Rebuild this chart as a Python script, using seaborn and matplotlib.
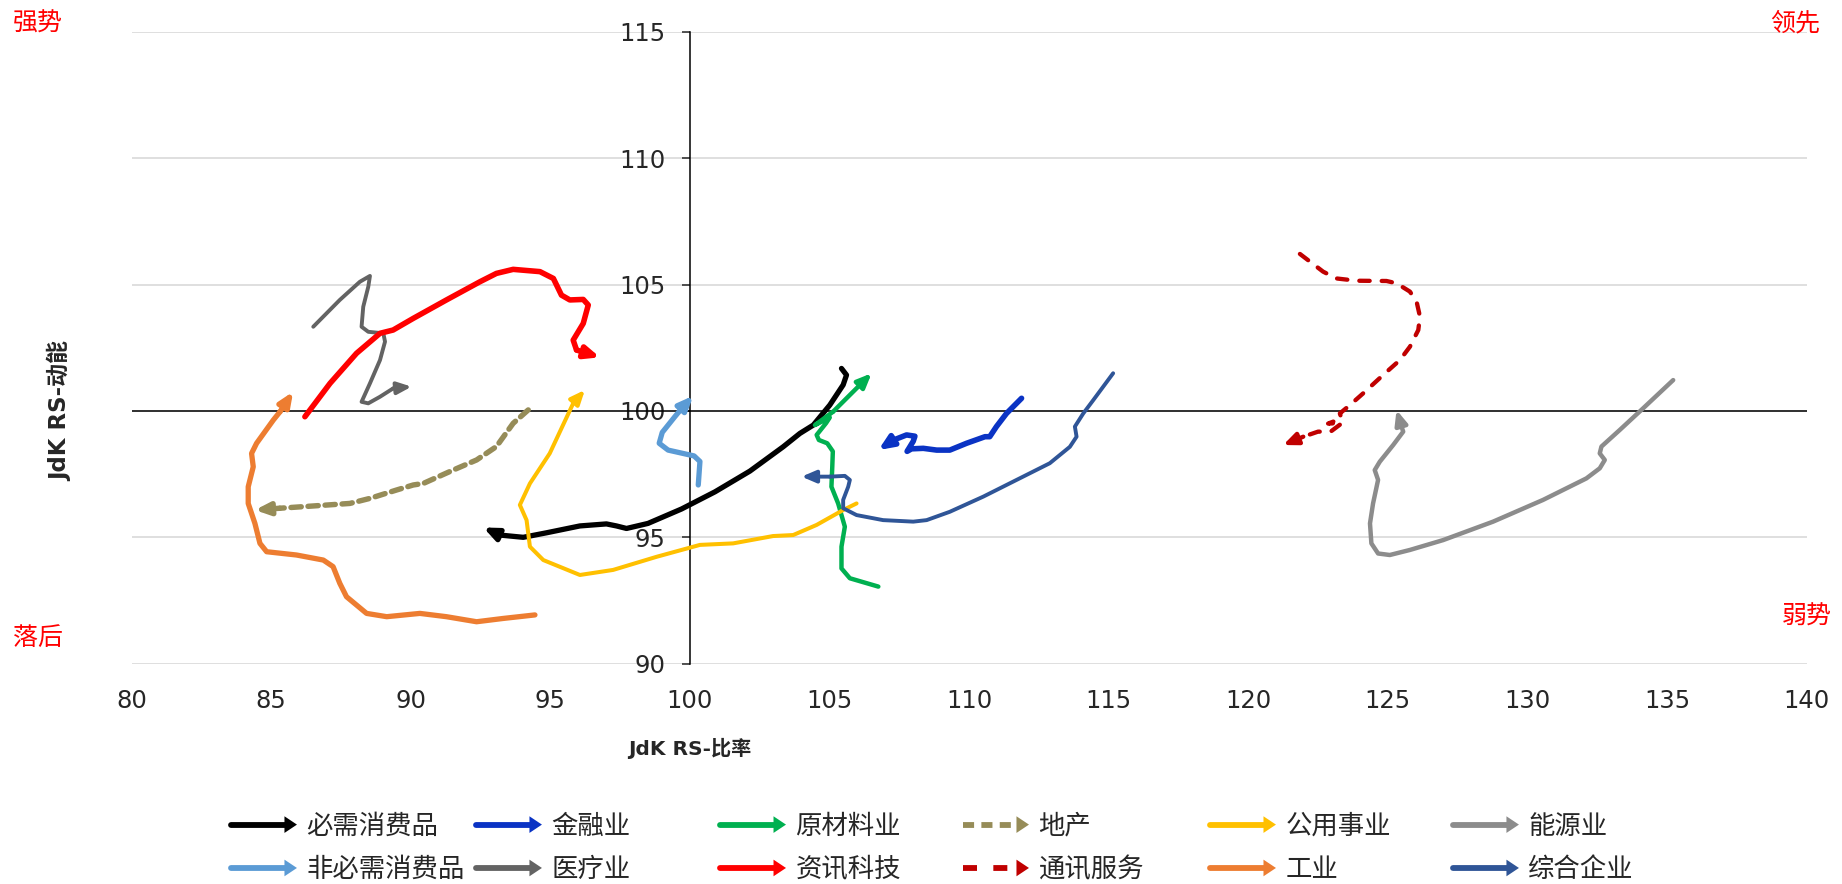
import matplotlib
matplotlib.use("Agg")
import matplotlib.pyplot as plt
import pandas as pd
import seaborn as sns
from matplotlib.lines import Line2D
from matplotlib.patches import Polygon
from matplotlib.legend_handler import HandlerBase

# RRG tails, oldest point first, arrow tip last
staples_x = [105.43, 105.61, 105.49, 105.01, 104.42, 103.94, 103.34, 102.15, 100.90, 99.70,
             98.50, 97.73, 97.37, 97.01, 96.06, 94.87, 94.03, 93.19, 92.60]
staples_y = [101.68, 101.42, 101.03, 100.23, 99.44, 99.11, 98.58, 97.62, 96.80, 96.12,
             95.55, 95.35, 95.45, 95.53, 95.45, 95.18, 95.00, 95.09, 95.39]

fin_x = [111.88, 111.34, 110.98, 110.86, 110.74, 110.57, 109.91, 109.31, 108.84, 108.36,
         107.94, 107.78, 108.00, 108.06, 107.76, 107.30, 106.75]
fin_y = [100.50, 99.90, 99.38, 99.18, 98.98, 98.98, 98.72, 98.45, 98.45, 98.52,
         98.50, 98.40, 98.80, 99.00, 99.05, 98.85, 98.45]

mat_x = [106.75, 105.73, 105.43, 105.43, 105.55, 105.31, 105.07, 105.10, 105.12, 104.92,
         104.62, 104.54, 104.88, 105.01, 104.48, 105.13, 106.51]
mat_y = [93.05, 93.38, 93.77, 94.63, 95.42, 96.34, 97.00, 97.79, 98.40, 98.72,
         98.85, 99.05, 99.52, 99.74, 99.44, 99.97, 101.49]

re_x = [94.21, 93.67, 93.07, 92.36, 91.52, 90.45, 90.09, 89.49, 88.54, 87.82, 86.51, 85.31, 84.42]
re_y = [100.04, 99.51, 98.59, 98.06, 97.66, 97.13, 97.07, 96.87, 96.54, 96.34, 96.24, 96.15, 96.08]

util_x = [105.97, 105.49, 104.54, 103.70, 102.98, 101.55, 100.36, 98.81, 97.25, 96.06,
          94.75, 94.27, 94.15, 93.91, 94.27, 94.98, 95.82, 96.24]
util_y = [96.34, 96.08, 95.49, 95.09, 95.05, 94.76, 94.70, 94.23, 93.71, 93.51,
          94.10, 94.63, 95.68, 96.28, 97.13, 98.32, 100.30, 100.83]

energy_x = [135.22, 134.14, 133.31, 132.65, 132.59, 132.77, 132.59, 132.11, 130.56, 128.77,
            126.98, 125.79, 125.07, 124.65, 124.41, 124.36, 124.47, 124.65, 124.53, 124.71,
            125.19, 125.55, 125.49, 125.31]
energy_y = [101.22, 100.10, 99.25, 98.59, 98.32, 98.06, 97.73, 97.33, 96.48, 95.62,
            94.89, 94.50, 94.30, 94.36, 94.76, 95.55, 96.34, 97.27, 97.66, 97.99,
            98.65, 99.18, 99.38, 100.04]

disc_x = [100.30, 100.36, 100.15, 99.22, 98.90, 99.01, 99.46, 99.76, 100.12]
disc_y = [97.07, 98.00, 98.22, 98.45, 98.72, 99.15, 99.77, 100.17, 100.60]

health_x = [86.51, 87.46, 88.18, 88.54, 88.48, 88.30, 88.24, 88.48, 89.02, 89.08,
            88.90, 88.54, 88.24, 88.48, 88.90, 89.37, 90.03]
health_y = [103.33, 104.39, 105.11, 105.34, 104.91, 104.12, 103.33, 103.13, 103.07, 102.74,
            102.01, 101.09, 100.36, 100.30, 100.56, 100.89, 100.96]

tech_x = [86.21, 87.11, 88.06, 88.90, 89.37, 90.09, 91.28, 92.48, 93.07, 93.67,
          94.63, 95.11, 95.40, 95.70, 96.18, 96.36, 96.18, 95.82, 95.94, 96.78]
tech_y = [99.77, 101.09, 102.28, 103.07, 103.20, 103.66, 104.39, 105.11, 105.44, 105.60,
          105.51, 105.24, 104.58, 104.39, 104.41, 104.19, 103.46, 102.80, 102.41, 102.12]

comm_x = [121.85, 122.68, 123.16, 123.88, 124.95, 125.31, 125.79, 126.03, 126.15, 126.09,
          125.79, 125.43, 124.83, 124.12, 123.64, 123.28, 123.34, 122.86, 123.36, 122.95,
          122.50, 121.97, 121.25]
comm_y = [106.21, 105.51, 105.24, 105.15, 105.14, 105.05, 104.72, 104.32, 103.73, 103.20,
          102.54, 102.01, 101.42, 100.70, 100.23, 99.90, 99.70, 99.50, 99.52, 99.18,
          99.18, 98.98, 98.65]

ind_x = [94.45, 93.31, 92.36, 91.28, 90.33, 89.14, 88.42, 87.70, 87.46, 87.22,
         86.87, 85.91, 84.84, 84.60, 84.42, 84.18, 84.18, 84.36, 84.30, 84.48,
         85.08, 85.32, 85.79]
ind_y = [91.93, 91.79, 91.66, 91.86, 91.99, 91.86, 91.99, 92.65, 93.18, 93.84,
         94.10, 94.30, 94.43, 94.76, 95.55, 96.34, 97.00, 97.79, 98.32, 98.72,
         99.64, 99.97, 100.76]

conglo_x = [115.16, 114.45, 114.09, 113.79, 113.85, 113.61, 112.89, 111.70, 110.51, 109.31,
            108.48, 108.00, 106.92, 105.97, 105.49, 105.49, 105.67, 105.73, 105.55, 105.01,
            104.00]
conglo_y = [101.49, 100.43, 99.90, 99.38, 98.98, 98.58, 97.93, 97.27, 96.61, 96.01,
            95.68, 95.62, 95.68, 95.88, 96.15, 96.48, 97.00, 97.27, 97.43, 97.40,
            97.40]

x_ticks = list(range(80, 141, 5))
y_ticks = [90, 95, 100, 105, 110, 115]

# name -> (x, y, colour, linewidth, dash pattern)
series = {
    "必需消费品": (staples_x, staples_y, "#000000", 3.8, None),
    "非必需消费品": (disc_x, disc_y, "#5B9BD5", 3.8, None),
    "金融业": (fin_x, fin_y, "#0A33C4", 4.0, None),
    "医疗业": (health_x, health_y, "#636363", 2.8, None),
    "原材料业": (mat_x, mat_y, "#00B050", 3.2, None),
    "资讯科技": (tech_x, tech_y, "#FF0000", 4.0, None),
    "地产": (re_x, re_y, "#968C58", 3.9, (1.9, 1.25)),
    "通讯服务": (comm_x, comm_y, "#C00000", 3.1, (2.4, 2.8)),
    "公用事业": (util_x, util_y, "#FFC000", 2.9, None),
    "工业": (ind_x, ind_y, "#ED7D31", 3.8, None),
    "能源业": (energy_x, energy_y, "#8C8C8C", 3.2, None),
    "综合企业": (conglo_x, conglo_y, "#2F5597", 2.8, None),
}

sns.set_style("white")
plt.rcParams["font.family"] = ["DejaVu Sans", "Noto Sans CJK SC"]

fig = plt.figure(figsize=(18.42, 8.84), dpi=100)
ax = fig.add_axes([0.0714, 0.2492, 0.9094, 0.7149])

handles = []
for name, (xs, ys, color, lw, dash) in series.items():
    df = pd.DataFrame({"x": xs[:-1], "y": ys[:-1]})
    sns.lineplot(data=df, x="x", y="y", sort=False, estimator=None,
                 color=color, linewidth=lw, ax=ax, zorder=3)
    line = ax.lines[-1]
    line.set_solid_joinstyle("round")
    line.set_solid_capstyle("round")
    if dash:
        line.set_dashes(dash)
        line.set_dash_capstyle("round")
    ax.annotate("", xy=(xs[-1], ys[-1]), xytext=(xs[-2], ys[-2]),
                arrowprops=dict(arrowstyle="-|>,head_length=0.42,head_width=0.18",
                                mutation_scale=20, color=color, lw=lw,
                                shrinkA=0, shrinkB=0), zorder=4)
    h = Line2D([], [], color=color, lw=4.2, label=name)
    if dash:
        h.set_dashes(dash)
    handles.append(h)


class ArrowHandler(HandlerBase):
    def create_artists(self, legend, orig, xd, yd, width, height, fontsize, trans):
        y = height / 2 - yd
        head = 9
        shaft = Line2D([-xd, width - xd - head + 1], [y, y])
        shaft.update_from(orig)
        shaft.set_transform(trans)
        tri = Polygon([[width - xd - head, y - 6], [width - xd, y],
                       [width - xd - head, y + 6]], closed=True,
                      color=orig.get_color(), lw=0, transform=trans)
        return [shaft, tri]


ax.set_xlim(80, 140)
ax.set_ylim(90, 115)
ax.set_xticks(x_ticks)
ax.set_yticks(y_ticks)
ax.yaxis.grid(True, color="#D9D9D9", lw=1.2)
ax.xaxis.grid(False)
ax.axhline(100, color="black", lw=1.1, zorder=2)

for side in ["top", "right", "bottom"]:
    ax.spines[side].set_visible(False)
ax.spines["left"].set_position(("data", 100))
ax.spines["left"].set_color("black")
ax.spines["left"].set_linewidth(1.1)

ax.tick_params(axis="y", direction="out", length=5.5, width=1.1, pad=12,
               labelsize=17.5, left=True)
ax.tick_params(axis="x", length=0, pad=18, labelsize=17.5)

ax.set_xlabel("JdK RS-比率", fontsize=14.5, fontweight="bold")
ax.xaxis.set_label_coords(1 / 3, -0.117)
ax.set_ylabel("")
ax.text(-0.0427, 0.4, "JdK RS-动能", transform=ax.transAxes, rotation=90,
        ha="center", va="center", fontsize=16.5, fontweight="bold")

quad = dict(color="#FF0000", fontsize=18, ha="center", va="center",
            family=["Noto Sans CJK SC", "DejaVu Sans"])
fig.text(0.0204, 0.9734, "强势", **quad)
fig.text(0.9745, 0.9734, "领先", **quad)
fig.text(0.0204, 0.2783, "落后", **quad)
fig.text(0.981, 0.302, "弱势", **quad)

col_x = [0.1254, 0.2584, 0.3909, 0.5228, 0.6569, 0.7888]
for i, cx in enumerate(col_x):
    fig.legend(handles=handles[2 * i:2 * i + 2], loc="center left",
               bbox_to_anchor=(cx, 0.0407), ncol=1, frameon=False,
               handler_map={Line2D: ArrowHandler()},
               prop={"family": ["Noto Sans CJK SC", "DejaVu Sans"], "size": 19},
               handlelength=2.5, handletextpad=0.36, labelspacing=0.62,
               borderpad=0, borderaxespad=0)

fig.savefig("out.png", dpi=100, facecolor="white")
